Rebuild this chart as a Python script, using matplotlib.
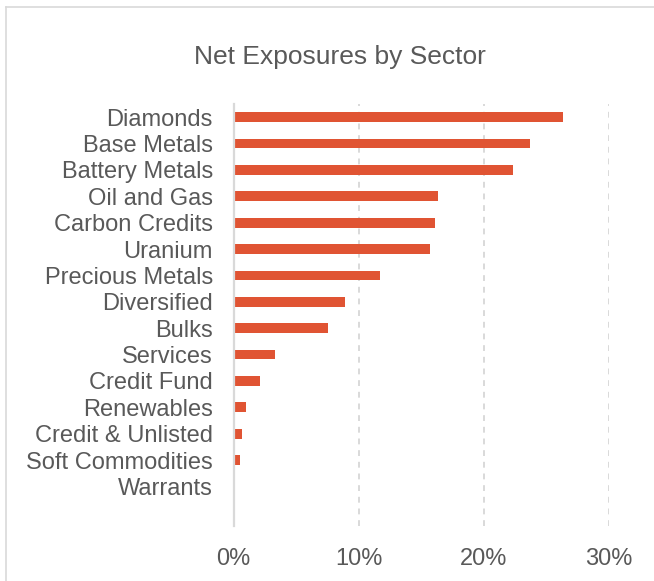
import matplotlib
matplotlib.use("Agg")
import matplotlib.pyplot as plt
from matplotlib.lines import Line2D
from matplotlib.ticker import FuncFormatter

sectors = ["Diamonds", "Base Metals", "Battery Metals", "Oil and Gas",
           "Carbon Credits", "Uranium", "Precious Metals", "Diversified",
           "Bulks", "Services", "Credit Fund", "Renewables",
           "Credit & Unlisted", "Soft Commodities", "Warrants"]
exposure = [26.3, 23.7, 22.3, 16.3, 16.1, 15.7, 11.7, 8.9,
            7.5, 3.3, 2.1, 1.0, 0.7, 0.5, 0.0]
xticks = [0, 10, 20, 30]

plt.rcParams["font.family"] = ["Liberation Sans", "DejaVu Sans"]
text_color = "#595959"
grid_color = "#D9D9D9"
bar_color = "#E05433"

fig = plt.figure(figsize=(6.54, 5.81), dpi=100)
ax = fig.add_axes([233.7 / 654, 1 - 526 / 581,
                   (609 - 233.7) / 654, (526 - 104) / 581])

positions = list(range(len(sectors)))
ax.barh(positions, exposure, height=0.37, color=bar_color, zorder=3)

ax.set_xlim(0, 30)
ax.set_ylim(len(sectors) + 0.5, -0.5)
ax.set_xticks(xticks)
ax.xaxis.set_major_formatter(FuncFormatter(lambda v, p: "{:.0f}%".format(v)))
ax.set_yticks(positions)
ax.set_yticklabels(sectors)
ax.tick_params(axis="x", length=0, pad=15.5, labelsize=17, labelcolor=text_color)
ax.tick_params(axis="y", length=0, pad=15, labelsize=17, labelcolor=text_color)

ax.grid(axis="x", ls=(0, (3, 3)), color=grid_color, lw=1.4, zorder=1)
for side in ["top", "right", "bottom"]:
    ax.spines[side].set_visible(False)
ax.spines["left"].set_color(grid_color)
ax.spines["left"].set_linewidth(1.6)
ax.spines["left"].set_zorder(4)

fig.text(340 / 654, 1 - 64 / 581, "Net Exposures by Sector",
         ha="center", va="baseline", fontsize=19, color=text_color)

# chart frame (top and left edges visible in the crop)
fig.add_artist(Line2D([6 / 654, 1], [1 - 7 / 581, 1 - 7 / 581],
                      color=grid_color, lw=1.2, transform=fig.transFigure))
fig.add_artist(Line2D([6 / 654, 6 / 654], [0, 1 - 7 / 581],
                      color=grid_color, lw=1.2, transform=fig.transFigure))

fig.savefig("out.png", dpi=100)
